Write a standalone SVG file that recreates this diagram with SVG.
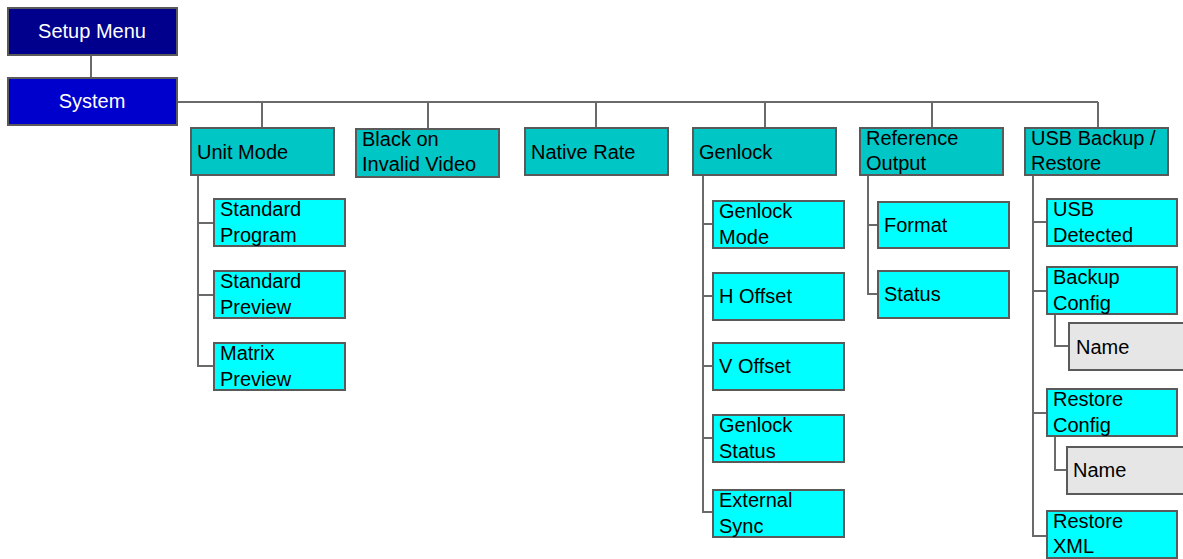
<svg xmlns="http://www.w3.org/2000/svg" width="1183" height="559" viewBox="0 0 1183 559">
<style>
.c{fill:none;stroke:#6a6a6a;stroke-width:2}
.b{stroke:#5a5a5a;stroke-width:2}
.top{fill:#00008c}
.sys{fill:#0000cc}
.l1{fill:#00c6c6}
.l2{fill:#00ffff}
.l3{fill:#e6e6e6}
text{font-family:"Liberation Sans",Arial,sans-serif;font-size:20px;fill:#000}
.w{fill:#fff;text-anchor:middle}
</style>
<rect width="1183" height="559" fill="#fff"/>
<g id="connectors">
<path class="c" d="M91 55V78"/>
<path class="c" d="M177 102H1098M262 102V128M428 102V129M596 102V128M765 102V128M932 102V128M1098 102V128"/>
<path class="c" d="M198 175V366H214M198 223H214M198 295H214"/>
<path class="c" d="M703 175V512H713M703 224H713M703 296H713M703 366H713M703 438H713"/>
<path class="c" d="M868 175V294H878M868 225H878"/>
<path class="c" d="M1033 175V536H1047M1033 222H1047M1033 291H1047M1033 413H1047"/>
<path class="c" d="M1055 314V346H1069M1055 436V470H1069"/>
</g>
<g id="setup-menu"><rect class="b top" x="8" y="8" width="169" height="47"/><text class="w" x="92" y="38">Setup Menu</text></g>
<g id="system"><rect class="b sys" x="8" y="78" width="169" height="47"/><text class="w" x="92" y="108">System</text></g>
<g id="unit-mode"><rect class="b l1" x="191" y="128" width="143" height="47"/><text x="197" y="159">Unit Mode</text></g>
<g id="black-on-invalid"><rect class="b l1" x="356" y="129" width="143" height="48"/><text x="362" y="146">Black on</text><text x="362" y="171">Invalid Video</text></g>
<g id="native-rate"><rect class="b l1" x="525" y="128" width="143" height="47"/><text x="531" y="159">Native Rate</text></g>
<g id="genlock"><rect class="b l1" x="693" y="128" width="143" height="47"/><text x="699" y="159">Genlock</text></g>
<g id="reference-output"><rect class="b l1" x="860" y="128" width="143" height="47"/><text x="866" y="145">Reference</text><text x="866" y="170">Output</text></g>
<g id="usb-backup"><rect class="b l1" x="1025" y="128" width="143" height="47"/><text x="1031" y="145">USB Backup /</text><text x="1031" y="170">Restore</text></g>
<g id="standard-program"><rect class="b l2" x="214" y="199" width="131" height="47"/><text x="220" y="216">Standard</text><text x="220" y="242">Program</text></g>
<g id="standard-preview"><rect class="b l2" x="214" y="271" width="131" height="47"/><text x="220" y="288">Standard</text><text x="220" y="314">Preview</text></g>
<g id="matrix-preview"><rect class="b l2" x="214" y="343" width="131" height="47"/><text x="220" y="360">Matrix</text><text x="220" y="386">Preview</text></g>
<g id="genlock-mode"><rect class="b l2" x="713" y="201" width="131" height="47"/><text x="719" y="218">Genlock</text><text x="719" y="244">Mode</text></g>
<g id="h-offset"><rect class="b l2" x="713" y="273" width="131" height="47"/><text x="719" y="303">H Offset</text></g>
<g id="v-offset"><rect class="b l2" x="713" y="343" width="131" height="47"/><text x="719" y="373">V Offset</text></g>
<g id="genlock-status"><rect class="b l2" x="713" y="415" width="131" height="47"/><text x="719" y="432">Genlock</text><text x="719" y="458">Status</text></g>
<g id="external-sync"><rect class="b l2" x="713" y="490" width="131" height="47"/><text x="719" y="507">External</text><text x="719" y="533">Sync</text></g>
<g id="format"><rect class="b l2" x="878" y="202" width="131" height="46"/><text x="884" y="232">Format</text></g>
<g id="status"><rect class="b l2" x="878" y="271" width="131" height="47"/><text x="884" y="301">Status</text></g>
<g id="usb-detected"><rect class="b l2" x="1047" y="199" width="130" height="47"/><text x="1053" y="216">USB</text><text x="1053" y="242">Detected</text></g>
<g id="backup-config"><rect class="b l2" x="1047" y="267" width="130" height="47"/><text x="1053" y="284">Backup</text><text x="1053" y="310">Config</text></g>
<g id="backup-name"><rect class="b l3" x="1069" y="323" width="120" height="47"/><text x="1076" y="354">Name</text></g>
<g id="restore-config"><rect class="b l2" x="1047" y="389" width="130" height="47"/><text x="1053" y="406">Restore</text><text x="1053" y="432">Config</text></g>
<g id="restore-name"><rect class="b l3" x="1067" y="447" width="122" height="47"/><text x="1073" y="477">Name</text></g>
<g id="restore-xml"><rect class="b l2" x="1047" y="511" width="130" height="47"/><text x="1053" y="528">Restore</text><text x="1053" y="553">XML</text></g>
</svg>
